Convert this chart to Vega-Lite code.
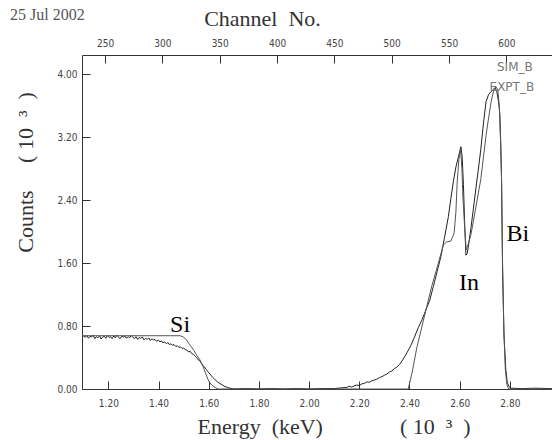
{
  "$schema": "https://vega.github.io/schema/vega-lite/v6.json",
  "width": 470,
  "height": 334,
  "autosize": {"type": "none"},
  "padding": {"left": 82, "top": 55, "right": 0, "bottom": 51},
  "background": "white",
  "title": {"text": "25 Jul 2002", "anchor": "start", "frame": "group", "dx": -72, "dy": 20, "font": "Liberation Serif", "fontSize": 16, "fontWeight": "normal", "color": "#555"},
  "config": {
    "view": {"stroke": null},
    "axis": {"grid": false, "domainColor": "#333", "tickColor": "#333", "labelFont": "DejaVu Sans Condensed", "labelFontSize": 10, "labelColor": "#444", "titleFont": "Liberation Serif", "titleFontSize": 22, "titleFontWeight": "normal", "titleColor": "#333", "tickSize": -8}
  },
  "datasets": {
    "spectra": [
      {"Series": "EXPT_B", "E": 1.095, "Counts": 0.66},
      {"Series": "EXPT_B", "E": 1.102, "Counts": 0.675},
      {"Series": "EXPT_B", "E": 1.108, "Counts": 0.655},
      {"Series": "EXPT_B", "E": 1.114, "Counts": 0.68},
      {"Series": "EXPT_B", "E": 1.121, "Counts": 0.645},
      {"Series": "EXPT_B", "E": 1.127, "Counts": 0.67},
      {"Series": "EXPT_B", "E": 1.133, "Counts": 0.66},
      {"Series": "EXPT_B", "E": 1.139, "Counts": 0.685},
      {"Series": "EXPT_B", "E": 1.146, "Counts": 0.64},
      {"Series": "EXPT_B", "E": 1.152, "Counts": 0.665},
      {"Series": "EXPT_B", "E": 1.158, "Counts": 0.65},
      {"Series": "EXPT_B", "E": 1.165, "Counts": 0.675},
      {"Series": "EXPT_B", "E": 1.171, "Counts": 0.635},
      {"Series": "EXPT_B", "E": 1.177, "Counts": 0.66},
      {"Series": "EXPT_B", "E": 1.184, "Counts": 0.67},
      {"Series": "EXPT_B", "E": 1.19, "Counts": 0.645},
      {"Series": "EXPT_B", "E": 1.196, "Counts": 0.68},
      {"Series": "EXPT_B", "E": 1.203, "Counts": 0.655},
      {"Series": "EXPT_B", "E": 1.209, "Counts": 0.665},
      {"Series": "EXPT_B", "E": 1.215, "Counts": 0.64},
      {"Series": "EXPT_B", "E": 1.222, "Counts": 0.675},
      {"Series": "EXPT_B", "E": 1.228, "Counts": 0.65},
      {"Series": "EXPT_B", "E": 1.234, "Counts": 0.685},
      {"Series": "EXPT_B", "E": 1.241, "Counts": 0.655},
      {"Series": "EXPT_B", "E": 1.247, "Counts": 0.64},
      {"Series": "EXPT_B", "E": 1.253, "Counts": 0.67},
      {"Series": "EXPT_B", "E": 1.26, "Counts": 0.66},
      {"Series": "EXPT_B", "E": 1.266, "Counts": 0.675},
      {"Series": "EXPT_B", "E": 1.272, "Counts": 0.645},
      {"Series": "EXPT_B", "E": 1.279, "Counts": 0.665},
      {"Series": "EXPT_B", "E": 1.285, "Counts": 0.65},
      {"Series": "EXPT_B", "E": 1.291, "Counts": 0.68},
      {"Series": "EXPT_B", "E": 1.298, "Counts": 0.655},
      {"Series": "EXPT_B", "E": 1.304, "Counts": 0.64},
      {"Series": "EXPT_B", "E": 1.31, "Counts": 0.665},
      {"Series": "EXPT_B", "E": 1.317, "Counts": 0.63},
      {"Series": "EXPT_B", "E": 1.323, "Counts": 0.655},
      {"Series": "EXPT_B", "E": 1.329, "Counts": 0.645},
      {"Series": "EXPT_B", "E": 1.336, "Counts": 0.66},
      {"Series": "EXPT_B", "E": 1.342, "Counts": 0.625},
      {"Series": "EXPT_B", "E": 1.348, "Counts": 0.645},
      {"Series": "EXPT_B", "E": 1.355, "Counts": 0.63},
      {"Series": "EXPT_B", "E": 1.361, "Counts": 0.65},
      {"Series": "EXPT_B", "E": 1.367, "Counts": 0.615},
      {"Series": "EXPT_B", "E": 1.374, "Counts": 0.64},
      {"Series": "EXPT_B", "E": 1.38, "Counts": 0.62},
      {"Series": "EXPT_B", "E": 1.386, "Counts": 0.63},
      {"Series": "EXPT_B", "E": 1.393, "Counts": 0.605},
      {"Series": "EXPT_B", "E": 1.399, "Counts": 0.625},
      {"Series": "EXPT_B", "E": 1.405, "Counts": 0.6},
      {"Series": "EXPT_B", "E": 1.412, "Counts": 0.61},
      {"Series": "EXPT_B", "E": 1.418, "Counts": 0.585},
      {"Series": "EXPT_B", "E": 1.424, "Counts": 0.6},
      {"Series": "EXPT_B", "E": 1.431, "Counts": 0.575},
      {"Series": "EXPT_B", "E": 1.437, "Counts": 0.59},
      {"Series": "EXPT_B", "E": 1.443, "Counts": 0.565},
      {"Series": "EXPT_B", "E": 1.45, "Counts": 0.575},
      {"Series": "EXPT_B", "E": 1.456, "Counts": 0.555},
      {"Series": "EXPT_B", "E": 1.462, "Counts": 0.565},
      {"Series": "EXPT_B", "E": 1.469, "Counts": 0.54},
      {"Series": "EXPT_B", "E": 1.475, "Counts": 0.55},
      {"Series": "EXPT_B", "E": 1.481, "Counts": 0.53},
      {"Series": "EXPT_B", "E": 1.488, "Counts": 0.535},
      {"Series": "EXPT_B", "E": 1.494, "Counts": 0.515},
      {"Series": "EXPT_B", "E": 1.5, "Counts": 0.52},
      {"Series": "EXPT_B", "E": 1.507, "Counts": 0.5},
      {"Series": "EXPT_B", "E": 1.513, "Counts": 0.495},
      {"Series": "EXPT_B", "E": 1.52, "Counts": 0.47},
      {"Series": "EXPT_B", "E": 1.526, "Counts": 0.48},
      {"Series": "EXPT_B", "E": 1.532, "Counts": 0.45},
      {"Series": "EXPT_B", "E": 1.539, "Counts": 0.44},
      {"Series": "EXPT_B", "E": 1.545, "Counts": 0.42},
      {"Series": "EXPT_B", "E": 1.551, "Counts": 0.4},
      {"Series": "EXPT_B", "E": 1.558, "Counts": 0.37},
      {"Series": "EXPT_B", "E": 1.564, "Counts": 0.36},
      {"Series": "EXPT_B", "E": 1.57, "Counts": 0.33},
      {"Series": "EXPT_B", "E": 1.577, "Counts": 0.3},
      {"Series": "EXPT_B", "E": 1.583, "Counts": 0.28},
      {"Series": "EXPT_B", "E": 1.59, "Counts": 0.25},
      {"Series": "EXPT_B", "E": 1.597, "Counts": 0.22},
      {"Series": "EXPT_B", "E": 1.605, "Counts": 0.19},
      {"Series": "EXPT_B", "E": 1.615, "Counts": 0.15},
      {"Series": "EXPT_B", "E": 1.625, "Counts": 0.12},
      {"Series": "EXPT_B", "E": 1.635, "Counts": 0.09},
      {"Series": "EXPT_B", "E": 1.645, "Counts": 0.07},
      {"Series": "EXPT_B", "E": 1.655, "Counts": 0.05},
      {"Series": "EXPT_B", "E": 1.665, "Counts": 0.03},
      {"Series": "EXPT_B", "E": 1.675, "Counts": 0.02},
      {"Series": "EXPT_B", "E": 1.685, "Counts": 0.01},
      {"Series": "EXPT_B", "E": 1.7, "Counts": 0.0},
      {"Series": "EXPT_B", "E": 1.75, "Counts": 0.005},
      {"Series": "EXPT_B", "E": 1.8, "Counts": 0.0},
      {"Series": "EXPT_B", "E": 1.85, "Counts": 0.005},
      {"Series": "EXPT_B", "E": 1.9, "Counts": 0.0},
      {"Series": "EXPT_B", "E": 1.95, "Counts": 0.005},
      {"Series": "EXPT_B", "E": 2.0, "Counts": 0.0},
      {"Series": "EXPT_B", "E": 2.05, "Counts": 0.005},
      {"Series": "EXPT_B", "E": 2.1, "Counts": 0.005},
      {"Series": "EXPT_B", "E": 2.13, "Counts": 0.015},
      {"Series": "EXPT_B", "E": 2.15, "Counts": 0.02},
      {"Series": "EXPT_B", "E": 2.16, "Counts": 0.035},
      {"Series": "EXPT_B", "E": 2.17, "Counts": 0.025},
      {"Series": "EXPT_B", "E": 2.18, "Counts": 0.04},
      {"Series": "EXPT_B", "E": 2.19, "Counts": 0.05},
      {"Series": "EXPT_B", "E": 2.2, "Counts": 0.045},
      {"Series": "EXPT_B", "E": 2.21, "Counts": 0.065},
      {"Series": "EXPT_B", "E": 2.22, "Counts": 0.07},
      {"Series": "EXPT_B", "E": 2.23, "Counts": 0.09},
      {"Series": "EXPT_B", "E": 2.24, "Counts": 0.085},
      {"Series": "EXPT_B", "E": 2.25, "Counts": 0.105},
      {"Series": "EXPT_B", "E": 2.26, "Counts": 0.115},
      {"Series": "EXPT_B", "E": 2.27, "Counts": 0.125},
      {"Series": "EXPT_B", "E": 2.28, "Counts": 0.145},
      {"Series": "EXPT_B", "E": 2.29, "Counts": 0.155},
      {"Series": "EXPT_B", "E": 2.3, "Counts": 0.175},
      {"Series": "EXPT_B", "E": 2.31, "Counts": 0.19},
      {"Series": "EXPT_B", "E": 2.32, "Counts": 0.215},
      {"Series": "EXPT_B", "E": 2.33, "Counts": 0.23},
      {"Series": "EXPT_B", "E": 2.34, "Counts": 0.26},
      {"Series": "EXPT_B", "E": 2.35, "Counts": 0.28},
      {"Series": "EXPT_B", "E": 2.36, "Counts": 0.31},
      {"Series": "EXPT_B", "E": 2.375, "Counts": 0.38},
      {"Series": "EXPT_B", "E": 2.39, "Counts": 0.46},
      {"Series": "EXPT_B", "E": 2.405, "Counts": 0.55},
      {"Series": "EXPT_B", "E": 2.42, "Counts": 0.66},
      {"Series": "EXPT_B", "E": 2.435, "Counts": 0.78},
      {"Series": "EXPT_B", "E": 2.45, "Counts": 0.88},
      {"Series": "EXPT_B", "E": 2.465, "Counts": 1.0},
      {"Series": "EXPT_B", "E": 2.48, "Counts": 1.12},
      {"Series": "EXPT_B", "E": 2.495, "Counts": 1.3},
      {"Series": "EXPT_B", "E": 2.51, "Counts": 1.49},
      {"Series": "EXPT_B", "E": 2.525, "Counts": 1.68},
      {"Series": "EXPT_B", "E": 2.54, "Counts": 1.93},
      {"Series": "EXPT_B", "E": 2.555, "Counts": 2.19},
      {"Series": "EXPT_B", "E": 2.565, "Counts": 2.42},
      {"Series": "EXPT_B", "E": 2.575, "Counts": 2.64},
      {"Series": "EXPT_B", "E": 2.585, "Counts": 2.82},
      {"Series": "EXPT_B", "E": 2.595, "Counts": 2.95},
      {"Series": "EXPT_B", "E": 2.605, "Counts": 3.08},
      {"Series": "EXPT_B", "E": 2.61, "Counts": 2.95},
      {"Series": "EXPT_B", "E": 2.615, "Counts": 2.6},
      {"Series": "EXPT_B", "E": 2.62, "Counts": 2.1},
      {"Series": "EXPT_B", "E": 2.625, "Counts": 1.7},
      {"Series": "EXPT_B", "E": 2.63, "Counts": 1.72},
      {"Series": "EXPT_B", "E": 2.635, "Counts": 1.82},
      {"Series": "EXPT_B", "E": 2.644, "Counts": 2.02},
      {"Series": "EXPT_B", "E": 2.655, "Counts": 2.3},
      {"Series": "EXPT_B", "E": 2.664, "Counts": 2.53},
      {"Series": "EXPT_B", "E": 2.674, "Counts": 2.78},
      {"Series": "EXPT_B", "E": 2.684, "Counts": 3.04},
      {"Series": "EXPT_B", "E": 2.695, "Counts": 3.38},
      {"Series": "EXPT_B", "E": 2.705, "Counts": 3.65},
      {"Series": "EXPT_B", "E": 2.715, "Counts": 3.74},
      {"Series": "EXPT_B", "E": 2.725, "Counts": 3.78},
      {"Series": "EXPT_B", "E": 2.735, "Counts": 3.81},
      {"Series": "EXPT_B", "E": 2.741, "Counts": 3.83},
      {"Series": "EXPT_B", "E": 2.748, "Counts": 3.78},
      {"Series": "EXPT_B", "E": 2.755, "Counts": 3.65},
      {"Series": "EXPT_B", "E": 2.76, "Counts": 3.5},
      {"Series": "EXPT_B", "E": 2.764, "Counts": 3.1},
      {"Series": "EXPT_B", "E": 2.767, "Counts": 2.66},
      {"Series": "EXPT_B", "E": 2.771, "Counts": 1.51},
      {"Series": "EXPT_B", "E": 2.777, "Counts": 0.66},
      {"Series": "EXPT_B", "E": 2.784, "Counts": 0.24},
      {"Series": "EXPT_B", "E": 2.79, "Counts": 0.08},
      {"Series": "EXPT_B", "E": 2.797, "Counts": 0.03},
      {"Series": "EXPT_B", "E": 2.807, "Counts": 0.01},
      {"Series": "EXPT_B", "E": 2.85, "Counts": 0.005},
      {"Series": "EXPT_B", "E": 2.9, "Counts": 0.01},
      {"Series": "EXPT_B", "E": 2.968, "Counts": 0.005},
      {"Series": "SIM_B", "E": 1.095, "Counts": 0.677},
      {"Series": "SIM_B", "E": 1.486, "Counts": 0.677},
      {"Series": "SIM_B", "E": 1.5, "Counts": 0.66},
      {"Series": "SIM_B", "E": 1.512, "Counts": 0.62},
      {"Series": "SIM_B", "E": 1.525, "Counts": 0.56},
      {"Series": "SIM_B", "E": 1.539, "Counts": 0.5},
      {"Series": "SIM_B", "E": 1.552, "Counts": 0.43},
      {"Series": "SIM_B", "E": 1.565, "Counts": 0.37},
      {"Series": "SIM_B", "E": 1.578, "Counts": 0.28},
      {"Series": "SIM_B", "E": 1.59, "Counts": 0.18},
      {"Series": "SIM_B", "E": 1.6, "Counts": 0.1},
      {"Series": "SIM_B", "E": 1.612, "Counts": 0.05},
      {"Series": "SIM_B", "E": 1.625, "Counts": 0.02},
      {"Series": "SIM_B", "E": 1.638, "Counts": 0.0},
      {"Series": "SIM_B", "E": 2.395, "Counts": 0.0},
      {"Series": "SIM_B", "E": 2.41, "Counts": 0.2},
      {"Series": "SIM_B", "E": 2.429, "Counts": 0.52},
      {"Series": "SIM_B", "E": 2.45, "Counts": 0.8},
      {"Series": "SIM_B", "E": 2.469, "Counts": 1.05},
      {"Series": "SIM_B", "E": 2.49, "Counts": 1.32},
      {"Series": "SIM_B", "E": 2.515, "Counts": 1.6},
      {"Series": "SIM_B", "E": 2.535, "Counts": 1.83},
      {"Series": "SIM_B", "E": 2.548, "Counts": 1.87},
      {"Series": "SIM_B", "E": 2.565, "Counts": 1.88},
      {"Series": "SIM_B", "E": 2.578, "Counts": 1.98},
      {"Series": "SIM_B", "E": 2.585, "Counts": 2.25},
      {"Series": "SIM_B", "E": 2.59, "Counts": 2.62},
      {"Series": "SIM_B", "E": 2.597, "Counts": 2.92},
      {"Series": "SIM_B", "E": 2.604, "Counts": 3.04},
      {"Series": "SIM_B", "E": 2.609, "Counts": 2.8},
      {"Series": "SIM_B", "E": 2.613, "Counts": 2.44},
      {"Series": "SIM_B", "E": 2.62, "Counts": 2.05},
      {"Series": "SIM_B", "E": 2.626, "Counts": 1.77},
      {"Series": "SIM_B", "E": 2.635, "Counts": 1.85},
      {"Series": "SIM_B", "E": 2.644, "Counts": 1.95},
      {"Series": "SIM_B", "E": 2.654, "Counts": 2.12},
      {"Series": "SIM_B", "E": 2.664, "Counts": 2.3},
      {"Series": "SIM_B", "E": 2.674, "Counts": 2.48},
      {"Series": "SIM_B", "E": 2.684, "Counts": 2.66},
      {"Series": "SIM_B", "E": 2.695, "Counts": 2.95},
      {"Series": "SIM_B", "E": 2.705, "Counts": 3.22},
      {"Series": "SIM_B", "E": 2.716, "Counts": 3.46},
      {"Series": "SIM_B", "E": 2.726, "Counts": 3.66},
      {"Series": "SIM_B", "E": 2.736, "Counts": 3.8},
      {"Series": "SIM_B", "E": 2.745, "Counts": 3.84},
      {"Series": "SIM_B", "E": 2.752, "Counts": 3.8},
      {"Series": "SIM_B", "E": 2.758, "Counts": 3.6},
      {"Series": "SIM_B", "E": 2.763, "Counts": 3.15},
      {"Series": "SIM_B", "E": 2.767, "Counts": 2.66},
      {"Series": "SIM_B", "E": 2.771, "Counts": 1.6},
      {"Series": "SIM_B", "E": 2.776, "Counts": 0.75},
      {"Series": "SIM_B", "E": 2.782, "Counts": 0.25},
      {"Series": "SIM_B", "E": 2.788, "Counts": 0.06},
      {"Series": "SIM_B", "E": 2.795, "Counts": 0.0},
      {"Series": "SIM_B", "E": 2.968, "Counts": 0.0}
    ],
    "peaks": [
      {"Label": "Si", "E": 1.486, "Counts": 0.81},
      {"Label": "In", "E": 2.637, "Counts": 1.35},
      {"Label": "Bi", "E": 2.832, "Counts": 1.97}
    ],
    "serieslabels": [
      {"Label": "SIM_B", "E": 2.82, "Counts": 4.09},
      {"Label": "EXPT_B", "E": 2.808, "Counts": 3.84}
    ],
    "channels": [
      {"Channel": 250}, {"Channel": 300}, {"Channel": 350}, {"Channel": 400},
      {"Channel": 450}, {"Channel": 500}, {"Channel": 550}, {"Channel": 600}
    ]
  },
  "layer": [
    {
      "layer": [
        {
          "data": {"name": "spectra"},
          "mark": {"type": "line", "strokeWidth": 1},
          "encoding": {
            "x": {"field": "E", "type": "quantitative", "scale": {"domain": [1.095, 2.968], "nice": false, "zero": false},
              "axis": {"orient": "bottom", "values": [1.2, 1.4, 1.6, 1.8, 2.0, 2.2, 2.4, 2.6, 2.8], "format": ".2f", "labelPadding": 17,
                "title": "Energy\u00a0\u00a0(keV)\u00a0\u00a0\u00a0\u00a0\u00a0\u00a0\u00a0\u00a0\u00a0\u00a0\u00a0\u00a0\u00a0\u00a0(\u00a010\u00a0\u00a0\u00b3\u00a0\u00a0)", "titleAlign": "left", "titleX": 115, "titleY": 37, "titleBaseline": "middle"}},
            "y": {"field": "Counts", "type": "quantitative", "scale": {"domain": [0, 4.245], "nice": false},
              "axis": {"values": [0, 0.8, 1.6, 2.4, 3.2, 4.0], "format": ".2f", "labelPadding": 13,
                "title": "Counts\u00a0\u00a0\u00a0\u00a0\u00a0(\u00a010\u00a0\u00a0\u00b3\u00a0\u00a0)", "titleAlign": "center", "titleX": -57, "titleY": 117, "titleBaseline": "middle", "titleAngle": 270}},
            "color": {"field": "Series", "type": "nominal", "scale": {"domain": ["EXPT_B", "SIM_B"], "range": ["#222222", "#555555"]}, "legend": null}
          }
        },
        {
          "data": {"name": "peaks"},
          "mark": {"type": "text", "font": "Liberation Serif", "fontSize": 24, "color": "#000000", "align": "center", "baseline": "middle"},
          "encoding": {
            "x": {"field": "E", "type": "quantitative"},
            "y": {"field": "Counts", "type": "quantitative"},
            "text": {"field": "Label"}
          }
        },
        {
          "data": {"name": "serieslabels"},
          "mark": {"type": "text", "font": "DejaVu Sans", "fontSize": 12, "color": "#777777", "align": "center", "baseline": "middle"},
          "encoding": {
            "x": {"field": "E", "type": "quantitative"},
            "y": {"field": "Counts", "type": "quantitative"},
            "text": {"field": "Label"}
          }
        }
      ]
    },
    {
      "data": {"name": "channels"},
      "mark": {"type": "rule", "opacity": 0},
      "encoding": {
        "x": {"field": "Channel", "type": "quantitative", "scale": {"domain": [229.9, 639.8], "nice": false, "zero": false},
          "axis": {"orient": "top", "values": [250, 300, 350, 400, 450, 500, 550, 600], "format": "d", "labelPadding": 15,
            "title": "Channel\u00a0\u00a0No.", "titleX": 180, "titleY": -37, "titleAlign": "center", "titleBaseline": "middle"}}
      }
    }
  ],
  "resolve": {"scale": {"x": "independent"}}
}
